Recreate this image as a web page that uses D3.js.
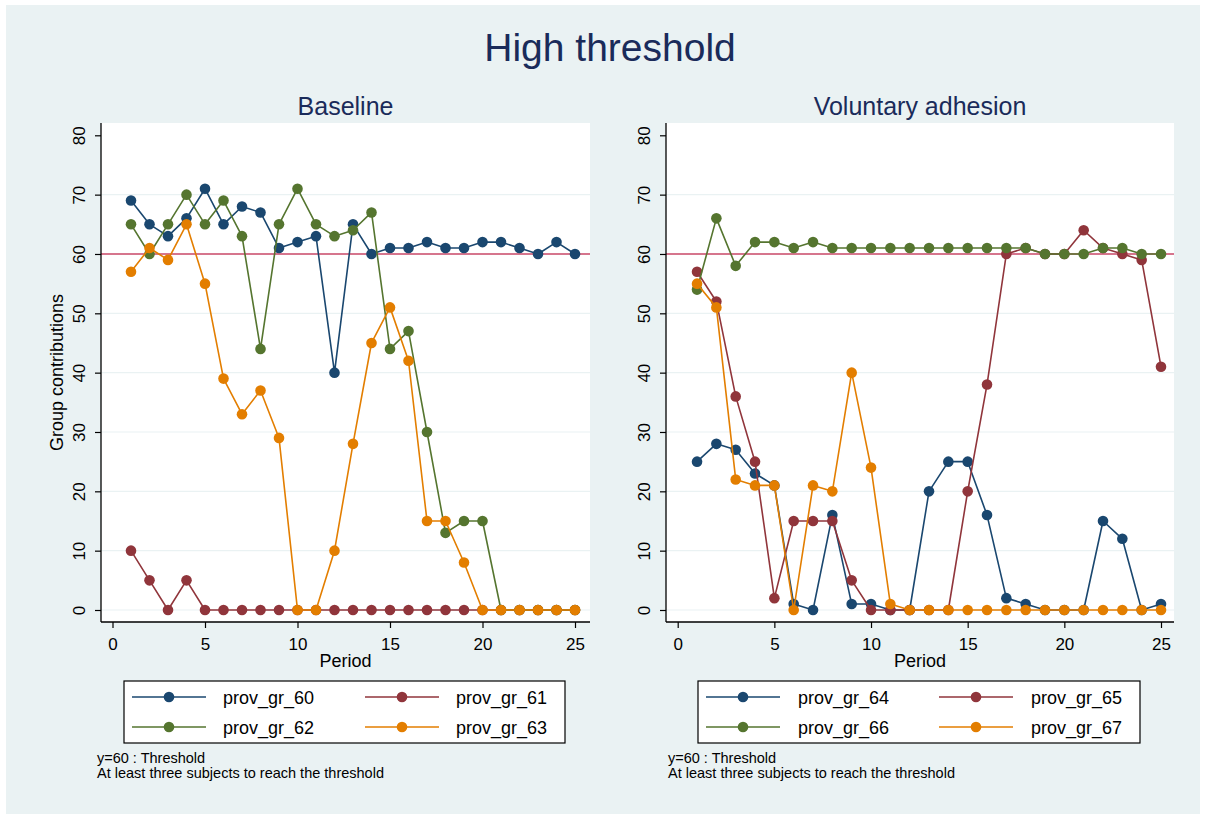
<!DOCTYPE html>
<html>
<head>
<meta charset="utf-8">
<script src="https://cdn.jsdelivr.net/npm/d3@7"></script>
<style>
  html, body { margin: 0; padding: 0; background: #ffffff; }
  svg { display: block; font-family: "Liberation Sans", Arial, sans-serif; }
</style>
</head>
<body>
<svg id="chart" width="1206" height="819"></svg>
<script>
// ---------------- DATA ----------------
const periods = [1,2,3,4,5,6,7,8,9,10,11,12,13,14,15,16,17,18,19,20,21,22,23,24,25];
const xTickValues = [0, 5, 10, 15, 20, 25];
const yTickValues = [0, 10, 20, 30, 40, 50, 60, 70, 80];
const threshold = 60;

const mainTitle = "High threshold";
const panelTitles = ["Baseline", "Voluntary adhesion"];
const yTitle = "Group contributions";
const xTitle = "Period";
const notes = ["y=60 : Threshold", "At least three subjects to reach the threshold"];

// Baseline panel
const baselineNames = ["prov_gr_60", "prov_gr_61", "prov_gr_62", "prov_gr_63"];
const prov_gr_60 = [69,65,63,66,71,65,68,67,61,62,63,40,65,60,61,61,62,61,61,62,62,61,60,62,60];
const prov_gr_61 = [10,5,0,5,0,0,0,0,0,0,0,0,0,0,0,0,0,0,0,0,0,0,0,0,0];
const prov_gr_62 = [65,60,65,70,65,69,63,44,65,71,65,63,64,67,44,47,30,13,15,15,0,0,0,0,0];
const prov_gr_63 = [57,61,59,65,55,39,33,37,29,0,0,10,28,45,51,42,15,15,8,0,0,0,0,0,0];

// Voluntary adhesion panel
const adhesionNames = ["prov_gr_64", "prov_gr_65", "prov_gr_66", "prov_gr_67"];
const prov_gr_64 = [25,28,27,23,21,1,0,16,1,1,0,0,20,25,25,16,2,1,0,0,0,15,12,0,1];
const prov_gr_65 = [57,52,36,25,2,15,15,15,5,0,0,0,0,0,20,38,60,61,60,60,64,61,60,59,41];
const prov_gr_66 = [54,66,58,62,62,61,62,61,61,61,61,61,61,61,61,61,61,61,60,60,60,61,61,60,60];
const prov_gr_67 = [55,51,22,21,21,0,21,20,40,24,1,0,0,0,0,0,0,0,0,0,0,0,0,0,0];

// ---------------- STYLE / LAYOUT ----------------
const seriesColors = ["#1a476f", "#90353b", "#55752f", "#e37e00"];
const bgColor = "#eaf2f3";
const gridColor = "#eaf2f3";
const threshColor = "#cc4a68";
const titleColor = "#1a2b5a";

const panels = [
  { title: panelTitles[0], names: baselineNames, values: [prov_gr_60, prov_gr_61, prov_gr_62, prov_gr_63],
    left: 101, right: 590, xr: [112.5, 575], showYTitle: true, noteX: 97,
    legend: { x0: 124, x1: 565, line1: [132, 206], line2: [365, 439], label1: 223, label2: 456 } },
  { title: panelTitles[1], names: adhesionNames, values: [prov_gr_64, prov_gr_65, prov_gr_66, prov_gr_67],
    left: 666, right: 1174, xr: [677.7, 1161], showYTitle: false, noteX: 668,
    legend: { x0: 698, x1: 1140, line1: [706, 780], line2: [939, 1013], label1: 798, label2: 1031 } }
];
const plotTop = 123, plotBottom = 622;

const svg = d3.select("#chart");

// Background
svg.append("rect").attr("x", 0).attr("y", 0).attr("width", 1206).attr("height", 819).attr("fill", "#ffffff");
svg.append("rect").attr("x", 6).attr("y", 5).attr("width", 1194).attr("height", 809).attr("fill", bgColor);

// Main title
svg.append("text").attr("x", 610).attr("y", 61).attr("text-anchor", "middle")
  .attr("font-size", 39).attr("fill", titleColor).text(mainTitle);

const y = d3.scaleLinear().domain([0, 80]).range([610, 135.3]);

panels.forEach(p => {
  const x = d3.scaleLinear().domain([0, 25]).range(p.xr);
  const g = svg.append("g");

  // plot region
  g.append("rect").attr("x", p.left).attr("y", plotTop)
    .attr("width", p.right - p.left).attr("height", plotBottom - plotTop).attr("fill", "#ffffff");

  // gridlines
  g.selectAll("line.grid").data(yTickValues.filter(v => v < 80)).enter().append("line")
    .attr("class", "grid")
    .attr("x1", p.left).attr("x2", p.right)
    .attr("y1", d => y(d)).attr("y2", d => y(d))
    .attr("stroke", gridColor).attr("stroke-width", 1.2);

  // threshold line
  g.append("line").attr("x1", p.left).attr("x2", p.right)
    .attr("y1", y(threshold)).attr("y2", y(threshold))
    .attr("stroke", threshColor).attr("stroke-width", 1.6);

  // subtitle
  svg.append("text").attr("x", (p.left + p.right) / 2).attr("y", 115).attr("text-anchor", "middle")
    .attr("font-size", 25).attr("fill", titleColor).text(p.title);

  // series
  const line = d3.line().x((d, i) => x(periods[i])).y(d => y(d));
  p.values.forEach((vals, si) => {
    const sg = g.append("g");
    sg.append("path").datum(vals).attr("d", line).attr("fill", "none")
      .attr("stroke", seriesColors[si]).attr("stroke-width", 1.6).attr("stroke-linejoin", "round");
    sg.selectAll("circle").data(vals).enter().append("circle")
      .attr("cx", (d, i) => x(periods[i])).attr("cy", d => y(d)).attr("r", 5.3)
      .attr("fill", seriesColors[si]);
  });

  // Y axis
  const yAxis = d3.axisLeft(y).tickValues(yTickValues).tickSize(6).tickPadding(10).tickFormat(d3.format("d"));
  const ya = svg.append("g").attr("transform", `translate(${p.left},0)`).call(yAxis);
  ya.select(".domain").attr("d", `M0,${plotTop}V${plotBottom}`).attr("stroke", "#000").attr("stroke-width", 1.3);
  ya.selectAll(".tick line").attr("stroke", "#000").attr("stroke-width", 1.2);
  ya.selectAll(".tick text")
    .attr("font-size", 17).attr("font-family", "Liberation Sans, Arial, sans-serif").attr("fill", "#000")
    .attr("text-anchor", "middle").attr("dy", null).attr("x", null)
    .attr("transform", "translate(-16,0) rotate(-90)");

  // X axis
  const xAxis = d3.axisBottom(x).tickValues(xTickValues).tickSize(6).tickPadding(10).tickFormat(d3.format("d"));
  const xa = svg.append("g").attr("transform", `translate(0,${plotBottom})`).call(xAxis);
  xa.select(".domain").attr("d", `M${p.left},0H${p.right}`).attr("stroke", "#000").attr("stroke-width", 1.3);
  xa.selectAll(".tick line").attr("stroke", "#000").attr("stroke-width", 1.2);
  xa.selectAll(".tick text").attr("font-size", 17).attr("font-family", "Liberation Sans, Arial, sans-serif")
    .attr("fill", "#000").attr("dy", null).attr("y", 28);

  // X title
  svg.append("text").attr("x", (p.left + p.right) / 2).attr("y", 667).attr("text-anchor", "middle")
    .attr("font-size", 18).attr("fill", "#000").text(xTitle);

  // Y title
  if (p.showYTitle) {
    svg.append("text").attr("transform", `translate(63,${(plotTop + plotBottom) / 2}) rotate(-90)`)
      .attr("text-anchor", "middle").attr("font-size", 18).attr("fill", "#000").text(yTitle);
  }

  // Legend
  const L = p.legend;
  svg.append("rect").attr("x", L.x0).attr("y", 681).attr("width", L.x1 - L.x0).attr("height", 62)
    .attr("fill", "#ffffff").attr("stroke", "#000").attr("stroke-width", 1.2);
  const rows = [697, 727];
  p.names.forEach((name, si) => {
    const col = si % 2, row = Math.floor(si / 2);
    const ln = col === 0 ? L.line1 : L.line2;
    const lx = col === 0 ? L.label1 : L.label2;
    const ry = rows[row];
    svg.append("line").attr("x1", ln[0]).attr("x2", ln[1]).attr("y1", ry).attr("y2", ry)
      .attr("stroke", seriesColors[si]).attr("stroke-width", 1.6);
    svg.append("circle").attr("cx", (ln[0] + ln[1]) / 2).attr("cy", ry).attr("r", 5.3).attr("fill", seriesColors[si]);
    svg.append("text").attr("x", lx).attr("y", ry + 6.5).attr("font-size", 18).attr("fill", "#000").text(name);
  });

  // Notes
  notes.forEach((t, i) => {
    svg.append("text").attr("x", p.noteX).attr("y", 763 + i * 15).attr("font-size", 14.5).attr("fill", "#000").text(t);
  });
});
</script>
</body>
</html>
